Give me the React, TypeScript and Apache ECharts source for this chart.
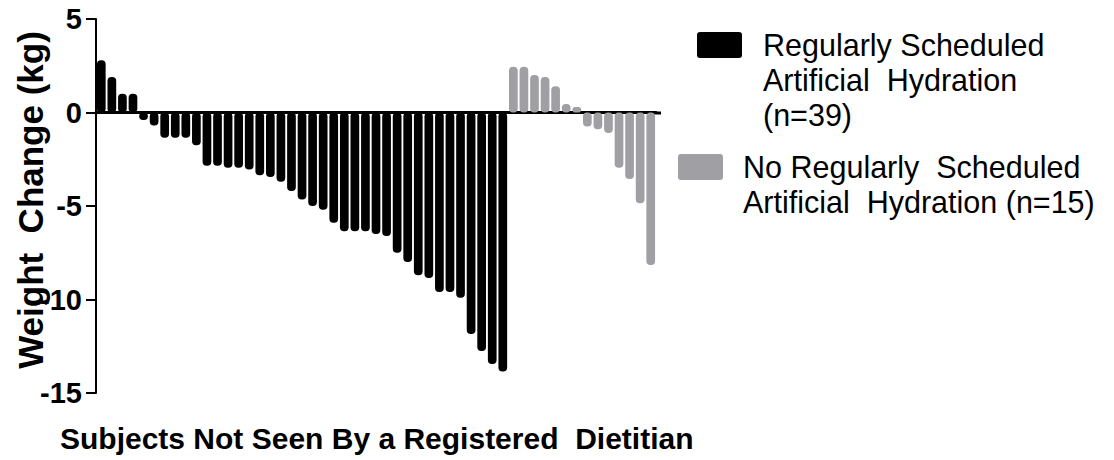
import React, { useEffect, useRef } from "react";
import * as echarts from "echarts";

const regularValues = [
  2.8, 1.9, 1.0, 1.0, -0.4, -0.7, -1.35, -1.35, -1.35, -1.75,
  -2.85, -2.85, -2.95, -2.95, -3.05, -3.35, -3.45, -3.7, -4.2, -4.65,
  -5.0, -5.2, -5.9, -6.35, -6.35, -6.35, -6.5, -6.6, -7.5, -8.0,
  -8.7, -8.85, -9.6, -9.6, -9.9, -11.85, -12.75, -13.45, -13.85,
];
const noRegularValues = [
  2.45, 2.45, 2.0, 1.9, 1.4, 0.45, 0.3, -0.75, -0.9, -1.1,
  -2.95, -3.55, -4.85, -8.15,
];
const yTicks = [5, 0, -5, -10, -15];
const seriesNames = [
  "Regularly Scheduled\nArtificial  Hydration\n(n=39)",
  "No Regularly  Scheduled\nArtificial  Hydration (n=15)",
];
const xTitle = "Subjects Not Seen By a Registered  Dietitian";
const yTitle = "Weight  Change (kg)";

const BLACK = "#000000";
const GREY = "#a0a0a4";
const FONT = "'Liberation Sans', Arial, Helvetica, sans-serif";

export default function App() {
  const ref = useRef<HTMLDivElement>(null);
  useEffect(() => {
    if (!ref.current) return;
    const chart = echarts.init(ref.current, null, { renderer: "svg" });
    const n = regularValues.length + noRegularValues.length;
    const categories = Array.from({ length: n }, (_, i) => String(i + 1));
    const blackData = [
      ...regularValues,
      ...noRegularValues.map(() => null),
    ];
    const greyData = [
      ...regularValues.map(() => null),
      ...noRegularValues,
    ];
    chart.setOption({
      animation: false,
      grid: { left: 96, top: 19, width: 560, height: 374, containLabel: false },
      xAxis: {
        type: "category",
        data: categories,
        axisLine: { onZero: true, lineStyle: { color: BLACK, width: 3 } },
        axisTick: { show: false },
        axisLabel: { show: false },
        splitLine: { show: false },
      },
      yAxis: {
        type: "value",
        min: -15,
        max: 5,
        interval: 5,
        axisLine: { show: true, lineStyle: { color: BLACK, width: 2 } },
        axisTick: { show: true, length: 10, lineStyle: { color: BLACK, width: 2 } },
        axisLabel: {
          margin: 14,
          color: BLACK,
          fontSize: 29,
          fontWeight: "bold",
          fontFamily: FONT,
          formatter: (v: number) => (yTicks.includes(v) ? String(v) : ""),
        },
        splitLine: { show: false },
      },
      series: [
        {
          name: seriesNames[0],
          type: "bar",
          data: blackData,
          barWidth: 8.7,
          barGap: "-100%",
          itemStyle: { color: BLACK, borderRadius: 4 },
        },
        {
          name: seriesNames[1],
          type: "bar",
          data: greyData,
          barWidth: 8.7,
          barGap: "-100%",
          itemStyle: { color: GREY, borderRadius: 4 },
        },
      ],
      graphic: [
        {
          type: "line",
          shape: { x1: 650, y1: 113, x2: 661, y2: 113 },
          style: { stroke: BLACK, lineWidth: 3 },
        },
        {
          type: "text",
          x: 30,
          y: 200,
          rotation: Math.PI / 2,
          style: {
            text: yTitle,
            fontSize: 35,
            fontWeight: "bold",
            fontFamily: FONT,
            fill: BLACK,
            textAlign: "center",
            textVerticalAlign: "middle",
          },
        },
        {
          type: "text",
          x: 60,
          y: 438,
          style: {
            text: xTitle,
            fontSize: 30,
            fontWeight: "bold",
            fontFamily: FONT,
            fill: BLACK,
            textAlign: "left",
            textVerticalAlign: "middle",
          },
        },
        {
          type: "rect",
          shape: { x: 697, y: 32, width: 45, height: 26, r: 3 },
          style: { fill: BLACK },
        },
        {
          type: "text",
          x: 763,
          y: 27,
          style: {
            text: seriesNames[0],
            fontSize: 30.5,
            lineHeight: 35,
            fontFamily: FONT,
            fill: BLACK,
            textAlign: "left",
            textVerticalAlign: "top",
          },
        },
        {
          type: "rect",
          shape: { x: 678, y: 154, width: 45, height: 26, r: 3 },
          style: { fill: GREY },
        },
        {
          type: "text",
          x: 743,
          y: 149,
          style: {
            text: seriesNames[1],
            fontSize: 30.5,
            lineHeight: 35,
            fontFamily: FONT,
            fill: BLACK,
            textAlign: "left",
            textVerticalAlign: "top",
          },
        },
      ],
    });
    return () => chart.dispose();
  }, []);
  return (
    <div
      ref={ref}
      style={{ width: 1114, height: 460, position: "absolute", left: 0, top: 0, background: "#fff" }}
    />
  );
}
